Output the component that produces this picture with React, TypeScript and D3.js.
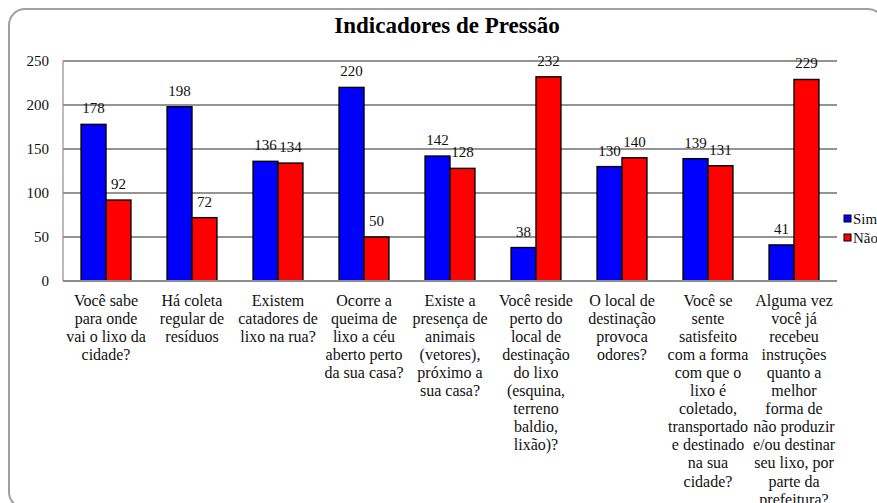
import * as d3 from "d3";

const categories: string[][] = [
  ["Você sabe", "para onde", "vai o lixo da", "cidade?"],
  ["Há coleta", "regular de", "resíduos"],
  ["Existem", "catadores de", "lixo na rua?"],
  ["Ocorre a", "queima de", "lixo a céu", "aberto perto", "da sua casa?"],
  ["Existe a", "presença de", "animais", "(vetores),", "próximo a", "sua casa?"],
  ["Você reside", "perto do", "local de", "destinação", "do lixo", "(esquina,", "terreno", "baldio,", "lixão)?"],
  ["O local de", "destinação", "provoca", "odores?"],
  ["Você se", "sente", "satisfeito", "com a forma", "com que o", "lixo é", "coletado,", "transportado", "e destinado", "na sua", "cidade?"],
  ["Alguma vez", "você já", "recebeu", "instruções", "quanto a", "melhor", "forma de", "não produzir", "e/ou destinar", "seu lixo, por", "parte da", "prefeitura?"],
];

const sim = [178, 198, 136, 220, 142, 38, 130, 139, 41];
const nao = [92, 72, 134, 50, 128, 232, 140, 131, 229];

const seriesNames = ["Sim", "Não"];
const seriesColors = ["#0000ff", "#ff0000"];
const yTicks = [0, 50, 100, 150, 200, 250];

const W = 877;
const H = 503;
const left = 63;
const right = 837;
const top = 61;
const bottom = 281;
const font = "Liberation Serif, Times New Roman, serif";

export default function App() {
  const idx = categories.map((_, i) => String(i));
  const x = d3.scaleBand().domain(idx).range([left, right]).paddingInner(0.42).paddingOuter(0.21);
  const x1 = d3.scaleBand().domain(seriesNames).range([0, x.bandwidth()]);
  const y = d3.scaleLinear().domain([0, 250]).range([bottom, top]);
  const series = [sim, nao];

  return (
    <svg
      width={W}
      height={H}
      style={{ position: "absolute", left: 0, top: 0, background: "#fff", fontFamily: font }}
    >
      <rect x={9} y={9} width={875} height={499} rx={16} ry={16} fill="#fff" stroke="#a0a0a0" strokeWidth={2} />
      <text x={447} y={33} textAnchor="middle" fontSize={23} fontWeight="bold" fill="#000" style={{ fontFamily: font }}>
        Indicadores de Pressão
      </text>

      {yTicks.map((t) => (
        <g key={t}>
          {t > 0 && <line x1={left} x2={right} y1={y(t)} y2={y(t)} stroke="#2a2a2a" strokeWidth={1.2} />}
          <text x={49} y={y(t) + 5} textAnchor="end" fontSize={15} fill="#111" style={{ fontFamily: font }}>
            {t}
          </text>
        </g>
      ))}
      <line x1={left} x2={left} y1={top} y2={bottom} stroke="#8c8c8c" strokeWidth={1.2} />

      {series.map((vals, s) =>
        vals.map((v, i) => {
          const bx = (x(String(i)) ?? 0) + (x1(seriesNames[s]) ?? 0);
          return (
            <rect
              key={`${s}-${i}`}
              x={bx}
              y={y(v)}
              width={x1.bandwidth()}
              height={bottom - y(v)}
              fill={seriesColors[s]}
              stroke="#000"
              strokeWidth={1.4}
            />
          );
        })
      )}
      <line x1={left} x2={right} y1={bottom} y2={bottom} stroke="#8c8c8c" strokeWidth={2} />

      {series.map((vals, s) =>
        vals.map((v, i) => {
          const cx = (x(String(i)) ?? 0) + (x1(seriesNames[s]) ?? 0) + x1.bandwidth() / 2;
          return (
            <text key={`l${s}-${i}`} x={cx} y={y(v) - 11} textAnchor="middle" fontSize={15} fill="#111" style={{ fontFamily: font }}>
              {v}
            </text>
          );
        })
      )}

      {categories.map((lines, i) => {
        const cx = (x(String(i)) ?? 0) + x.bandwidth() / 2;
        return (
          <text key={`c${i}`} textAnchor="middle" fontSize={16} fill="#111" style={{ fontFamily: font }}>
            {lines.map((ln, k) => (
              <tspan key={k} x={cx} y={305.5 + k * 18.1}>
                {ln}
              </tspan>
            ))}
          </text>
        );
      })}

      {seriesNames.map((n, s) => (
        <g key={n}>
          <rect x={844} y={215 + s * 19} width={7} height={7} fill={seriesColors[s]} stroke="#000" strokeWidth={1} />
          <text x={853} y={223.5 + s * 19} fontSize={15} fill="#111" style={{ fontFamily: font }}>
            {n}
          </text>
        </g>
      ))}
    </svg>
  );
}
